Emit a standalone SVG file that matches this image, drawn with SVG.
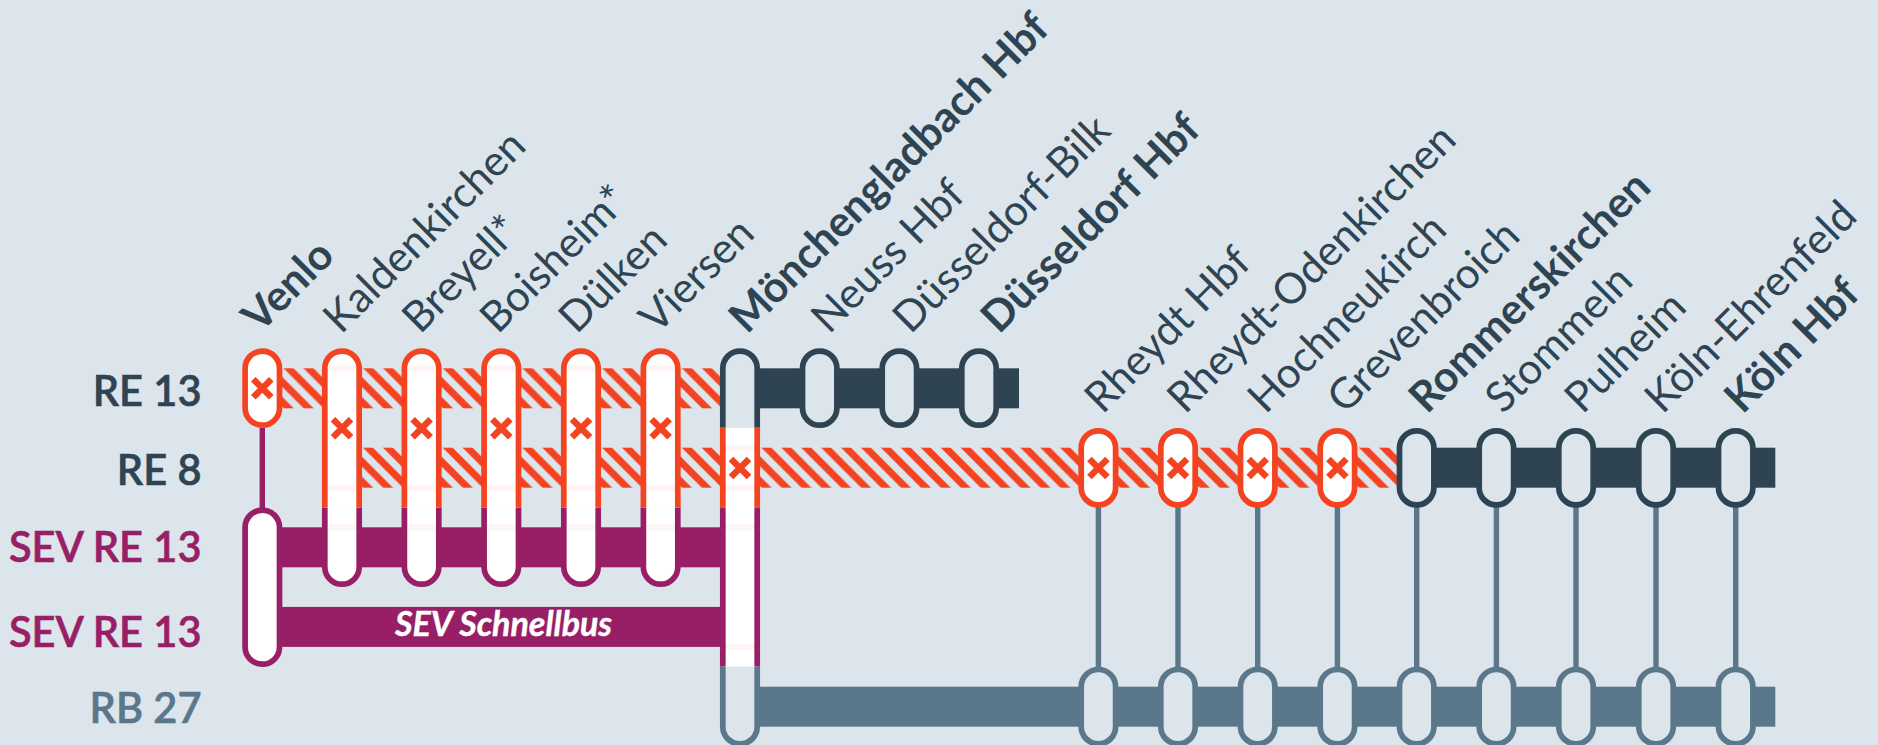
<svg xmlns="http://www.w3.org/2000/svg" width="1878" height="745" viewBox="0 0 1878 745">
<style>
.o{stroke:#f44321}.p{stroke:#981f66}.d{stroke:#2f4452}.s{stroke:#5b788a}
.pill path{stroke-width:5.7}
.w{fill:#fff}.b{fill:#dce4ec}
.conn{stroke-width:5.4;fill:none}
.x{stroke:#f44321;stroke-width:6.5;fill:none}
.seam{fill:none;stroke-width:1;opacity:.06;stroke:#f44321}
text{font-family:Lato,"Liberation Sans",sans-serif}
.st{font-size:42.3px;font-weight:400;fill:#2f4452}
.bd{font-weight:700;font-size:42.6px}
.row{font-size:41.500px;font-weight:600;text-anchor:end;stroke-width:.6}
</style>
<defs>
<pattern id="hatch" patternUnits="userSpaceOnUse" x="363.3" y="368.3" width="19.92" height="19.92">
<path d="M0 0H9.96L19.92 9.96V19.92ZM0 9.96L9.96 19.92H0Z" fill="#f44321"/>
</pattern>
<g id="cross"><path class="x" d="M-9 -9L9 9M-9 9L9 -9"/></g>
<g id="pill-short-dark" class="pill"><path class="d b" d="M-17.2 368.3A17.2 17.2 0 0 1 17.2 368.3V408A17.2 17.2 0 0 1 -17.2 408Z"/></g>
<g id="pill-short-red" class="pill"><path class="o w" d="M-17.2 368.3A17.2 17.2 0 0 1 17.2 368.3V408A17.2 17.2 0 0 1 -17.2 408Z"/></g>
<g id="pill-tall" class="pill">
<path class="o w" d="M-17.2 507.7V368.3A17.2 17.2 0 0 1 17.2 368.3V507.7"/>
<path class="p w" d="M-17.2 507.7V567A17.2 17.2 0 0 0 17.2 567V507.7"/>
<path class="seam" d="M-14.3 368.3H14.3M-14.3 487.7H14.3M-14.3 527.3H14.3"/>
</g>
<g id="pill-slate" class="pill"><path class="s b" d="M-17.2 686.7A17.2 17.2 0 0 1 17.2 686.7V726.7A17.2 17.2 0 0 1 -17.2 726.7Z"/></g>
</defs>
<rect width="1878" height="745" fill="#dce4ec"/>

<g id="connectors">
<rect x="262" y="368.3" width="478" height="40" fill="url(#hatch)"/>
<rect x="342" y="447.7" width="1075" height="40" fill="url(#hatch)"/>
<rect x="740" y="368.3" width="279" height="40" fill="#2f4452"/>
<rect x="1416" y="447.7" width="359.3" height="40" fill="#2f4452"/>
<rect x="262" y="527.3" width="478" height="40" fill="#981f66"/>
<rect x="262" y="606.9" width="478" height="40" fill="#981f66"/>
<rect x="740" y="686.7" width="1035.3" height="40" fill="#5b788a"/>
<path class="conn p" d="M262.3 428V508"/>
<path class="conn s" d="M1098.4 507V667M1178 507V667M1257.7 507V667M1337.4 507V667M1416.7 507V667M1496.4 507V667M1576 507V667M1656 507V667M1735.7 507V667"/>
</g>

<g id="labels-rows">
<text class="row" x="201.500" y="405.500" fill="#2f4452" stroke="#2f4452">RE 13</text>
<text class="row" x="201.500" y="484.500" fill="#2f4452" stroke="#2f4452">RE 8</text>
<text class="row" x="201.500" y="561.500" fill="#981f66" stroke="#981f66">SEV RE 13</text>
<text class="row" x="201.500" y="646.500" fill="#981f66" stroke="#981f66">SEV RE 13</text>
<text class="row" x="201.500" y="723" fill="#5b788a" stroke="#5b788a">RB 27</text>
</g>

<g id="venlo"><use href="#pill-short-red" x="262.3"/><use href="#cross" x="262.3" y="388.3"/>
<g class="pill"><path class="p w" d="M245.100 527.3A17.2 17.2 0 0 1 279.500 527.3V647A17.2 17.2 0 0 1 245.100 647Z"/></g>
<text class="st bd" transform="translate(260 334) rotate(-45)">Venlo</text></g>
<g id="kaldenkirchen"><use href="#pill-tall" x="342"/><use href="#cross" x="342" y="428.300"/><text class="st" transform="translate(341 335) rotate(-45)">Kaldenkirchen</text></g>
<g id="breyell"><use href="#pill-tall" x="421.6"/><use href="#cross" x="421.6" y="428.300"/><text class="st" transform="translate(420 335) rotate(-45)">Breyell*</text></g>
<g id="boisheim"><use href="#pill-tall" x="501.3"/><use href="#cross" x="501.3" y="428.300"/><text class="st" transform="translate(497.800 335) rotate(-45)">Boisheim*</text></g>
<g id="duelken"><use href="#pill-tall" x="581"/><use href="#cross" x="581" y="428.300"/><text class="st" transform="translate(576.500 335) rotate(-45)">Dülken</text></g>
<g id="viersen"><use href="#pill-tall" x="660.6"/><use href="#cross" x="660.6" y="428.300"/><text class="st" transform="translate(657 335) rotate(-45)">Viersen</text></g>

<g id="moenchengladbach" class="pill">
<path class="w" stroke="none" d="M722.7 427.7H757.3V666.7H722.7Z"/>
<path class="d b" d="M722.8 427.7V368.3A17.2 17.2 0 0 1 757.2 368.3V427.7"/>
<path class="o" fill="none" d="M722.8 427.7V507.7M757.2 427.7V507.700"/>
<path class="p" fill="none" d="M722.8 507.7V666.7M757.2 507.7V666.7"/>
<path class="s b" d="M722.8 666.7V726.7A17.2 17.2 0 0 0 757.2 726.7V666.7"/>
<path class="seam" d="M725.700 447.7H754.300M725.700 487.7H754.300M725.700 527.3H754.300M725.700 647H754.300"/>
<use href="#cross" x="740" y="468"/>
<text class="st bd" transform="translate(747 335) rotate(-45)">Mönchengladbach Hbf</text></g>
<g id="neuss"><use href="#pill-short-dark" x="819.7"/><text class="st" transform="translate(829 335) rotate(-45)">Neuss Hbf</text></g>
<g id="duesseldorf-bilk"><use href="#pill-short-dark" x="899.4"/><text class="st" transform="translate(910.500 335) rotate(-45)">Düsseldorf-Bilk</text></g>
<g id="duesseldorf"><use href="#pill-short-dark" x="979"/><text class="st bd" transform="translate(999 335) rotate(-45)">Düsseldorf Hbf</text></g>

<g id="rheydt"><use href="#pill-short-red" x="1098.4" y="79.7"/><use href="#cross" x="1098.4" y="468"/><use href="#pill-slate" x="1098.4"/><text class="st" transform="translate(1102.5 415) rotate(-45)">Rheydt Hbf</text></g>
<g id="rheydt-odenkirchen"><use href="#pill-short-red" x="1178" y="79.7"/><use href="#cross" x="1178" y="468"/><use href="#pill-slate" x="1178"/><text class="st" transform="translate(1185 415) rotate(-45)">Rheydt-Odenkirchen</text></g>
<g id="hochneukirch"><use href="#pill-short-red" x="1257.7" y="79.7"/><use href="#cross" x="1257.7" y="468"/><use href="#pill-slate" x="1257.7"/><text class="st" transform="translate(1265.5 415) rotate(-45)">Hochneukirch</text></g>
<g id="grevenbroich"><use href="#pill-short-red" x="1337.4" y="79.7"/><use href="#cross" x="1337.4" y="468"/><use href="#pill-slate" x="1337.4"/><text class="st" transform="translate(1345 415) rotate(-45)">Grevenbroich</text></g>
<g id="rommerskirchen"><use href="#pill-short-dark" x="1416.7" y="79.7"/><use href="#pill-slate" x="1416.7"/><text class="st bd" transform="translate(1427 415) rotate(-45)">Rommerskirchen</text></g>
<g id="stommeln"><use href="#pill-short-dark" x="1496.4" y="79.7"/><use href="#pill-slate" x="1496.4"/><text class="st" transform="translate(1503 415) rotate(-45)">Stommeln</text></g>
<g id="pulheim"><use href="#pill-short-dark" x="1576" y="79.7"/><use href="#pill-slate" x="1576"/><text class="st" transform="translate(1582.5 415) rotate(-45)">Pulheim</text></g>
<g id="koeln-ehrenfeld"><use href="#pill-short-dark" x="1656" y="79.7"/><use href="#pill-slate" x="1656"/><text class="st" transform="translate(1662.500 415) rotate(-45)">Köln-Ehrenfeld</text></g>
<g id="koeln"><use href="#pill-short-dark" x="1735.7" y="79.7"/><use href="#pill-slate" x="1735.7"/><text class="st bd" transform="translate(1742.500 415) rotate(-45)">Köln Hbf</text></g>

<text x="395" y="636" font-size="34" font-weight="700" font-style="italic" fill="#fff" stroke="#fff" stroke-width=".4">SEV Schnellbus</text>
</svg>
